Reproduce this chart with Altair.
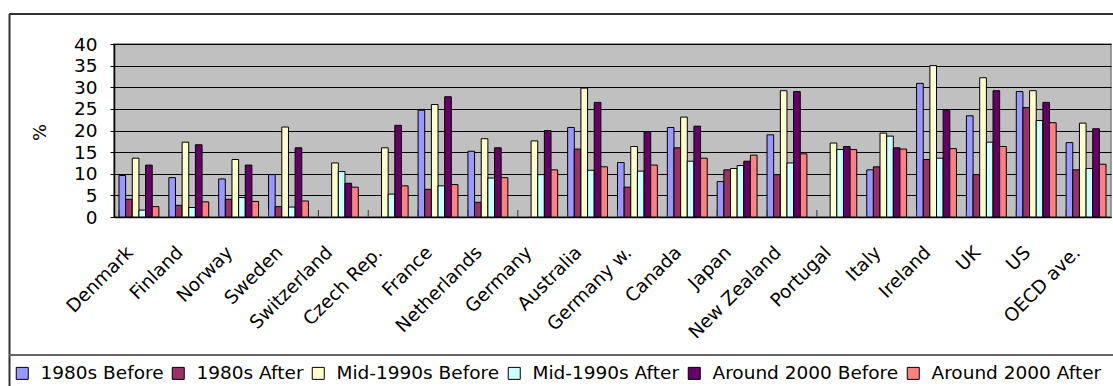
import altair as alt
import pandas as pd

# Countries in display order and the six period series
countries = ["Denmark", "Finland", "Norway", "Sweden", "Switzerland", "Czech Rep.",
             "France", "Netherlands", "Germany", "Australia", "Germany w.", "Canada",
             "Japan", "New Zealand", "Portugal", "Italy", "Ireland", "UK", "US", "OECD ave."]
series = ["1980s Before", "1980s After", "Mid-1990s Before", "Mid-1990s After",
          "Around 2000 Before", "Around 2000 After"]
colors = ["#9999FF", "#993366", "#FFFFCC", "#CCFFFF", "#660066", "#FF8080"]

# Poverty rate (%) before / after taxes and transfers
b1980 = [9.6, 9.1, 8.8, 9.8, None, None, 24.7, 15.2, None, 20.7, 12.6, 20.7, 8.2, 19.0, None, 10.9, 30.9, 23.4, 29.0, 17.2]
a1980 = [4.1, 2.7, 4.1, 2.4, None, None, 6.4, 3.4, None, 15.7, 6.9, 16.0, 10.9, 9.8, None, 11.6, 13.3, 9.8, 25.3, 10.9]
b1990 = [13.6, 17.3, 13.3, 20.8, 12.5, 16.0, 26.0, 18.1, 17.6, 29.8, 16.3, 23.1, 11.2, 29.2, 17.1, 19.4, 35.0, 32.2, 29.2, 21.7]
a1990 = [1.6, 2.2, 4.5, 2.3, 10.5, 5.3, 7.2, 9.0, 9.8, 10.8, 10.6, 12.9, 11.9, 12.5, 15.6, 18.7, 13.6, 17.3, 22.3, 11.2]
b2000 = [12.0, 16.7, 12.0, 16.0, 7.8, 21.2, 27.8, 16.0, 20.0, 26.5, 19.7, 21.0, 12.9, 29.0, 16.3, 16.0, 24.7, 29.2, 26.5, 20.4]
a2000 = [2.4, 3.5, 3.6, 3.7, 6.9, 7.2, 7.5, 9.1, 10.9, 11.6, 12.0, 13.6, 14.3, 14.6, 15.6, 15.7, 15.8, 16.3, 21.8, 12.2]

y_ticks = [0, 5, 10, 15, 20, 25, 30, 35, 40]

rows = []
for name, vals in zip(series, [b1980, a1980, b1990, a1990, b2000, a2000]):
    for c, v in zip(countries, vals):
        if v is not None:
            rows.append({"country": c, "series": name, "value": v})
df = pd.DataFrame(rows)
cat_df = pd.DataFrame({"country": countries})
one = pd.DataFrame({"k": [0]})

FONT = "DejaVu Sans"
W, H = 997, 173

x_enc = alt.X("country:N", sort=countries,
              scale=alt.Scale(domain=countries, paddingInner=0.2, paddingOuter=0.1),
              axis=alt.Axis(title=None, labelAngle=-45, labelAlign="right",
                            labelBaseline="middle", labelPadding=32, labelOffset=-9,
                            labelFontSize=18.5, labelFont=FONT, labelColor="#000000",
                            ticks=False, grid=False, domainColor="#000000",
                            domainWidth=1.5))

bars = alt.Chart(df).mark_bar(stroke="#000000", strokeWidth=1).encode(
    x=x_enc,
    xOffset=alt.XOffset("series:N", sort=series,
                        scale=alt.Scale(domain=series, paddingInner=0, paddingOuter=0)),
    y=alt.Y("value:Q", scale=alt.Scale(domain=[0, 40], nice=False),
            axis=alt.Axis(values=y_ticks, title="%", titleFont=FONT, titleFontSize=18,
                          titleFontWeight="normal", titleX=-74, titleY=88,
                          titleAngle=-90, titleAlign="center", titleBaseline="middle",
                          labelFontSize=18.5, labelFont=FONT, labelColor="#000000",
                          labelPadding=13, tickSize=4, tickColor="#000000",
                          domainColor="#000000", domainWidth=1.5,
                          gridColor="#000000", gridWidth=1, gridOpacity=1)),
    color=alt.Color("series:N", sort=series,
                    scale=alt.Scale(domain=series, range=colors),
                    legend=alt.Legend(title=None, orient="none", legendX=-101, legendY=320,
                                      direction="horizontal", columns=6,
                                      symbolType="square", symbolSize=144,
                                      symbolStrokeColor="#000000", symbolStrokeWidth=1,
                                      symbolOpacity=1, labelOffset=9, columnPadding=5,
                                      labelFontSize=18.5, labelFont=FONT,
                                      labelColor="#000000", labelLimit=400, padding=0)),
)

# Category separator ticks pointing into the plot
cat_ticks = alt.Chart(cat_df).mark_rule(color="#333333", strokeWidth=1).encode(
    x=alt.X("country:N", sort=countries, bandPosition=0),
    y=alt.value(H - 7), y2=alt.value(H),
)

# Outer chart frame and legend separator
frame_top = alt.Chart(one).mark_rule(color="#333333", strokeWidth=2).encode(
    x=alt.value(-105), x2=alt.value(W + 10), y=alt.value(-30))
frame_left = alt.Chart(one).mark_rule(color="#333333", strokeWidth=2).encode(
    x=alt.value(-104.5), y=alt.value(-30), y2=alt.value(H + 180))
legend_sep = alt.Chart(one).mark_rule(color="#666666", strokeWidth=2).encode(
    x=alt.value(-105), x2=alt.value(W + 10), y=alt.value(311))

chart = alt.layer(bars, cat_ticks, frame_top, frame_left, legend_sep).properties(
    width=W, height=H,
    autosize=alt.AutoSizeParams(type="none"),
    padding={"left": 114, "top": 44, "right": 2, "bottom": 169},
    background="#FFFFFF",
).configure_view(
    fill="#C0C0C0", stroke="#808080", strokeWidth=1.5
)

chart.save("out.html", embed_options={"renderer": "svg", "actions": False})
